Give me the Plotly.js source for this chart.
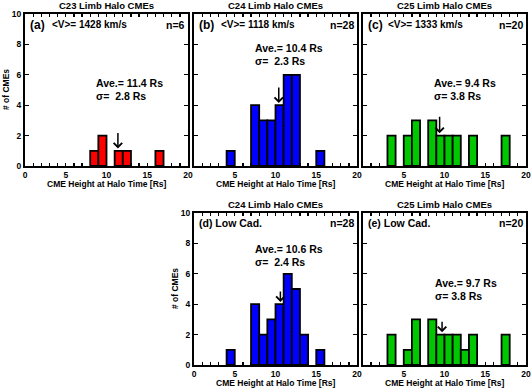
<!DOCTYPE html>
<html><head><meta charset="utf-8">
<script src="https://cdn.plot.ly/plotly-3.0.1.min.js"></script>
<style>html,body{margin:0;padding:0;background:#fff}#chart{width:532px;height:389px}</style>
</head><body><div id="chart"></div>
<script>
// ---- data ----
const panelLabels = ['(a)', '(b)', '(c)', '(d)', '(e)'];
const panelTitles = ['C23 Limb Halo CMEs', 'C24 Limb Halo CMEs', 'C25 Limb Halo CMEs', 'C24 Limb Halo CMEs', 'C25 Limb Halo CMEs'];
const meanSpeeds = [1428, 1118, 1333];          // km/s, panels a-c
const nCounts = [6, 28, 20, 28, 20];
const aveHeights = [11.4, 10.4, 9.4, 10.6, 9.7];
const sigmaHeights = [2.8, 2.3, 3.8, 2.4, 3.8];

const binsA = [8, 9, 11, 12, 16];
const countsA = [1, 2, 1, 1, 1];
const binsB = [4, 7, 8, 9, 10, 11, 12, 15];
const countsB = [1, 4, 3, 3, 4, 6, 6, 1];
const binsC = [3, 5, 6, 8, 9, 10, 11, 13, 17];
const countsC = [2, 2, 3, 3, 2, 2, 2, 2, 2];
const binsD = [4, 7, 8, 9, 10, 11, 12, 13, 15];
const countsD = [1, 4, 2, 3, 4, 6, 5, 2, 1];
const binsE = [3, 5, 6, 8, 9, 10, 11, 12, 13, 17];
const countsE = [2, 1, 3, 3, 2, 2, 2, 1, 2, 2];

const xTickVals = [0, 1, 2, 3, 4, 5, 6, 7, 8, 9, 10, 11, 12, 13, 14, 15, 16, 17, 18, 19, 20];
const xTickTextFull = ['0', '', '', '', '', '5', '', '', '', '', '10', '', '', '', '', '15', '', '', '', '', '20'];
const xTickTextNoZero = ['', '', '', '', '', '5', '', '', '', '', '10', '', '', '', '', '15', '', '', '', '', '20'];
const yTickVals = [0, 2, 4, 6, 8, 10];
const yTickText = ['0', '2', '4', '6', '8', '10'];

const xAxisTitle = 'CME Height at Halo Time [Rs]';
const yAxisTitle = '# of CMEs';
const binWidth = 1;

// ---- styling / layout ----
const W = 532, H = 389;
const FONT = 'Liberation Sans, Arial, Helvetica, sans-serif';
const bins = [binsA, binsB, binsC, binsD, binsE];
const counts = [countsA, countsB, countsC, countsD, countsE];
const colors = ['#ff0000', '#0000ff', '#00c800', '#0000ff', '#00c800'];
// pixel boxes [left, right, top, bottom]
const boxes = [
  [25, 188, 14, 166], [194, 357, 14, 166], [363, 526, 14, 166],
  [194, 357, 213, 365], [363, 526, 213, 365]
];
const aveLeft = [69, 59, 69, 59, 70];   // offset of stats text from panel left (px)
const aveTop = [82.5, 48, 82.5, 249, 282.5]; // center y of "Ave." line (px)
const arrowLen = [-17, -17, -18, -12, -12];

const px = x => x / W;
const py = y => 1 - y / H;

const traces = [];
const layout = {
  width: W, height: H,
  margin: {l: 0, r: 0, t: 0, b: 0},
  paper_bgcolor: '#fff', plot_bgcolor: '#fff',
  showlegend: false,
  font: {family: FONT, color: '#000'},
  annotations: []
};

function txt(x, y, text, size, xanchor) {
  layout.annotations.push({
    xref: 'paper', yref: 'paper', x: px(x), y: py(y),
    text: '<b>' + text + '</b>', showarrow: false,
    xanchor: xanchor || 'left', yanchor: 'middle',
    font: {family: FONT, size: size, color: '#000'}
  });
}

for (let i = 0; i < 5; i++) {
  const k = i === 0 ? '' : String(i + 1);
  const [L, R, T, B] = boxes[i];
  traces.push({
    type: 'bar', x: bins[i], y: counts[i], offset: 0, width: binWidth,
    xaxis: 'x' + k, yaxis: 'y' + k,
    marker: {color: colors[i], line: {color: '#000', width: 1.8}},
    hoverinfo: 'skip'
  });
  const showY = (i === 0 || i === 3);
  layout['xaxis' + k] = {
    domain: [px(L), px(R)], anchor: 'y' + k, range: [0, 20],
    tickmode: 'array', tickvals: xTickVals,
    ticktext: showY ? xTickTextFull : xTickTextNoZero,
    ticks: 'inside', ticklen: 3, tickwidth: 1.3, tickcolor: '#000',
    mirror: 'ticks', showline: true, linewidth: 2, linecolor: '#000',
    showgrid: false, zeroline: false, fixedrange: true,
    tickfont: {family: FONT, size: 8.5, color: '#000', weight: 'bold'}
  };
  layout['yaxis' + k] = {
    domain: [py(B), py(T)], anchor: 'x' + k, range: [0, 10],
    tickmode: 'array', tickvals: yTickVals, ticktext: yTickText,
    showticklabels: showY,
    ticks: 'inside', ticklen: 4, tickwidth: 1.3, tickcolor: '#000',
    mirror: 'ticks', showline: true, linewidth: 2, linecolor: '#000',
    showgrid: false, zeroline: false, fixedrange: true,
    tickfont: {family: FONT, size: 8.5, color: '#000', weight: 'bold'}
  };
  const cx = (L + R) / 2;
  // panel title
  txt(cx, T - 9, panelTitles[i], 9.5, 'center');
  // x-axis title
  txt(cx, B + 17.5, xAxisTitle, 8.5, 'center');
  // y-axis title
  if (showY) {
    layout.annotations.push({
      xref: 'paper', yref: 'paper', x: px(L - 19), y: py((T + B) / 2),
      text: '<b>' + yAxisTitle + '</b>', showarrow: false, textangle: -90,
      xanchor: 'center', yanchor: 'middle',
      font: {family: FONT, size: 8.5, color: '#000'}
    });
  }
  // panel label
  const headY = T + 10.5;
  if (i < 3) {
    txt(L + 3, headY, panelLabels[i], 12);
    txt(L + (i === 2 ? 23 : 25), headY, '&lt;V&gt;= ' + meanSpeeds[i] + ' km/s', 10);
  } else {
    txt(L + 3, headY, panelLabels[i] + ' Low Cad.', 10.5);
  }
  txt(R - 1.5, headY, 'n=' + nCounts[i], 10.5, 'right');
  // stats
  const sp = aveHeights[i] >= 10 ? '\u00a0\u00a0' : '\u00a0';
  txt(L + aveLeft[i], aveTop[i], 'Ave.= ' + aveHeights[i].toFixed(1) + ' Rs', 10.5);
  txt(L + aveLeft[i], aveTop[i] + 13, 'σ=' + sp + sigmaHeights[i].toFixed(1) + ' Rs', 10.5);
  // arrow at average
  const idx = bins[i].findIndex(b => aveHeights[i] >= b && aveHeights[i] < b + binWidth);
  const barTop = idx >= 0 ? counts[i][idx] : 0;
  layout.annotations.push({
    xref: 'x' + k, yref: 'y' + k, x: aveHeights[i], y: barTop + 0.15,
    ax: 0, ay: arrowLen[i], showarrow: true, arrowhead: 4, arrowsize: 1.1,
    arrowwidth: 1.5, arrowcolor: '#000', text: ''
  });
}

Plotly.newPlot('chart', traces, layout, {staticPlot: true, displayModeBar: false});
</script></body></html>
